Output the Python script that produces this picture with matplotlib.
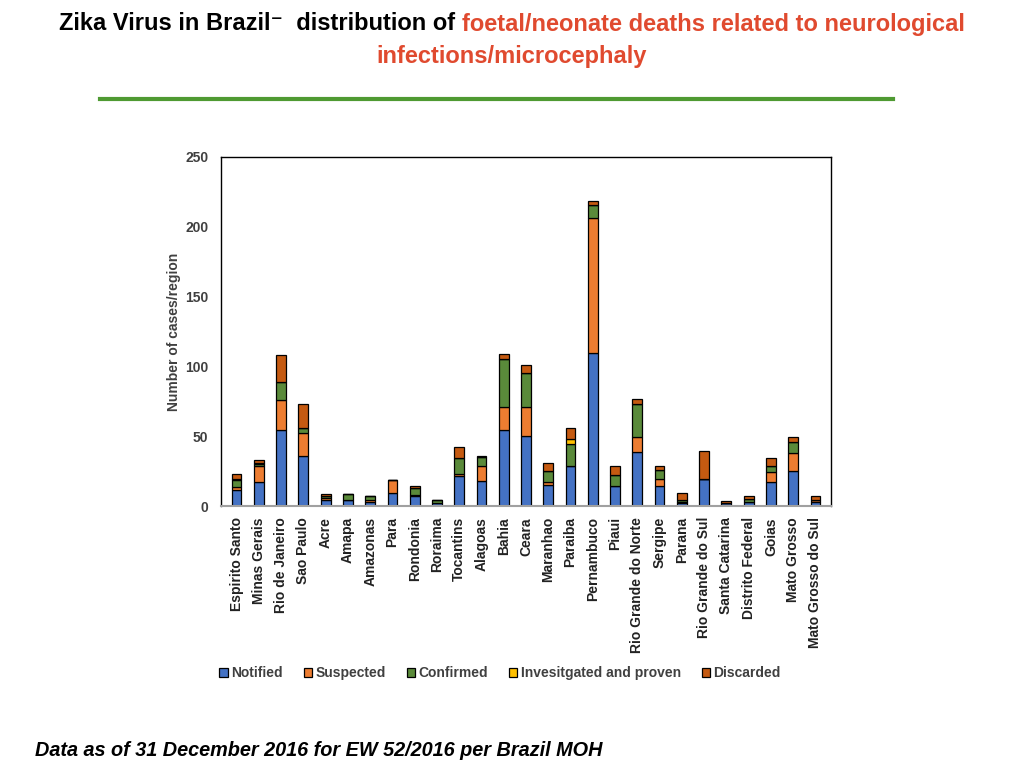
import matplotlib

matplotlib.use("Agg")
import matplotlib.pyplot as plt
import numpy as np
from matplotlib.lines import Line2D

plt.rcParams["font.family"] = ["Liberation Sans", "DejaVu Sans"]

STATES = ["Espirito Santo", "Minas Gerais", "Rio de Janeiro", "Sao Paulo", "Acre",
          "Amapa", "Amazonas", "Para", "Rondonia", "Roraima", "Tocantins",
          "Alagoas", "Bahia", "Ceara", "Maranhao", "Paraiba", "Pernambuco",
          "Piaui", "Rio Grande do Norte", "Sergipe", "Parana",
          "Rio Grande do Sul", "Santa Catarina", "Distrito Federal", "Goias",
          "Mato Grosso", "Mato Grosso do Sul"]

notified = [11.5, 17, 54.5, 36, 4, 4, 3, 9, 7, 2.5, 21.5, 18, 54.5, 50, 15, 28.5,
            109.5, 14, 38.5, 14, 2, 19, 2.5, 3, 17.5, 25, 3]
suspected = [2, 11.5, 21.5, 16.5, 2, 0.5, 1, 9.5, 1, 0, 1.5, 10.5, 16.5, 21, 2.5, 0,
             97, 0, 11, 5, 1, 0, 0, 0, 7, 13, 1]
confirmed = [5, 1.5, 12.5, 3.5, 1, 4, 3, 0, 5, 1.5, 11.5, 6.5, 34, 24.5, 7.5, 16,
             9, 8.5, 23.5, 7, 1.5, 0, 0, 2, 4.5, 7.5, 0]
investigated = [0.5, 0.5, 0, 0, 0, 0, 0, 0, 0, 0, 0, 0, 0.5, 0, 0, 3.5,
                0, 0, 0, 0, 0, 0, 0, 0, 0, 0, 0.5]
discarded = [4, 2.5, 20, 17, 1.5, 0, 0, 0, 1, 0, 7.5, 1, 3.5, 5.5, 5.5, 8,
             3, 6, 3.5, 2.5, 4.5, 20.5, 1, 2.5, 5.5, 4, 2.5]

SERIES = ["Notified", "Suspected", "Confirmed", "Invesitgated and proven", "Discarded"]
COLORS = ["#4472C4", "#ED7D31", "#5A8A3A", "#FFC000", "#C55A11"]

fig = plt.figure(figsize=(10.24, 7.68), dpi=100)
ax = fig.add_axes([221 / 1024, 1 - 506 / 768, 610 / 1024, 349 / 768])

x = np.arange(len(STATES))
bottom = np.zeros(len(STATES))
for name, vals, col in zip(SERIES, [notified, suspected, confirmed, investigated, discarded], COLORS):
    vals = np.array(vals, dtype=float)
    ax.bar(x, vals, 0.44, bottom=bottom, color=col, edgecolor="black",
           linewidth=0.9, label=name)
    bottom += vals

ax.set_xlim(-0.7, len(STATES) - 0.3)
ax.set_ylim(0, 250)
ax.set_yticks([0, 50, 100, 150, 200, 250])
ax.set_xticks(x)
ax.set_xticklabels(STATES, rotation=90, fontsize=10, fontweight="bold", color="#222222")
ax.tick_params(axis="both", length=0)
ax.tick_params(axis="x", pad=8)
for lab in ax.get_yticklabels():
    lab.set_fontweight("bold")
    lab.set_fontsize(10)
    lab.set_color("#404040")
ax.tick_params(axis="y", pad=9)
ax.set_ylabel("Number of cases/region", fontsize=10, fontweight="bold", color="#404040",
              labelpad=3)
for s in ["left", "top", "right"]:
    ax.spines[s].set_color("black")
    ax.spines[s].set_linewidth(1.0)
ax.spines["bottom"].set_color("#a0a0a0")
ax.spines["bottom"].set_linewidth(1.5)

fig.legend(loc="center", bbox_to_anchor=(500 / 1024, 1 - 673 / 768), ncol=5,
           frameon=False, handlelength=0.6, handleheight=0.6, handletextpad=0.25,
           columnspacing=1.5, prop={"weight": "bold", "size": 10},
           labelcolor="#404040")

# title in two colours, centred as a whole
y1 = 1 - 24 / 768
t_black = fig.text(0, y1, "Zika Virus in Brazil\u207b  distribution of ",
                   ha="left", va="center", fontsize=17, fontweight="bold", color="black")
t_red = fig.text(0, y1, "foetal/neonate deaths related to neurological",
                 ha="left", va="center", fontsize=17, fontweight="bold", color="#E04A2F")
r = fig.canvas.get_renderer()
wb = t_black.get_window_extent(r).width
wr = t_red.get_window_extent(r).width
x0 = 512 - (wb + wr) / 2
t_black.set_x(x0 / 1024)
t_red.set_x((x0 + wb) / 1024)
fig.text(512 / 1024, 1 - 56 / 768, "infections/microcephaly",
         ha="center", va="center", fontsize=17, fontweight="bold", color="#E04A2F")
fig.add_artist(Line2D([100 / 1024, 893 / 1024], [1 - 99 / 768, 1 - 99 / 768],
                      color="#4F9A32", linewidth=3))

fig.text(35 / 1024, 1 - 750 / 768, "Data as of 31 December 2016 for EW 52/2016 per Brazil MOH",
         ha="left", va="center", fontsize=14.3, fontweight="bold", fontstyle="italic")

fig.savefig("out.png", dpi=100)
